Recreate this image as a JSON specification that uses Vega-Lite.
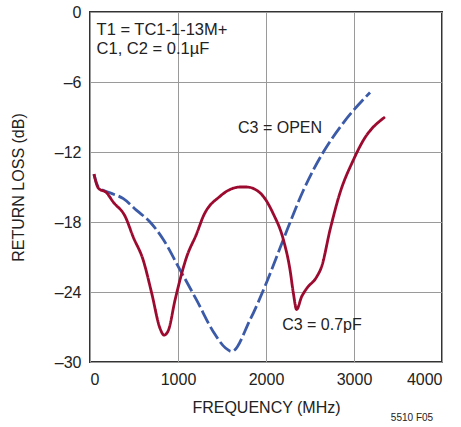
{
  "$schema": "https://vega.github.io/schema/vega-lite/v6.json",
  "autosize": "none",
  "width": 352,
  "height": 350,
  "padding": {"left": 90, "top": 12, "right": 19, "bottom": 65},
  "background": "white",
  "config": {
    "font": "Liberation Sans",
    "view": {"stroke": "#333333", "strokeWidth": 2},
    "axis": {
      "grid": true, "gridColor": "#9a9a9a", "gridWidth": 1,
      "domain": false, "ticks": false,
      "labelFont": "Liberation Sans", "labelFontSize": 16, "labelColor": "#222222",
      "titleFont": "Liberation Sans", "titleFontSize": 16, "titleFontWeight": "normal", "titleColor": "#222222"
    }
  },
  "datasets": {
    "curves": [
      {"s": "C3 = OPEN", "i": 1, "f": 45, "db": -13.9},
      {"s": "C3 = OPEN", "i": 2, "f": 95, "db": -15.0},
      {"s": "C3 = OPEN", "i": 3, "f": 227, "db": -15.5},
      {"s": "C3 = OPEN", "i": 4, "f": 379, "db": -16.0},
      {"s": "C3 = OPEN", "i": 5, "f": 530, "db": -17.0},
      {"s": "C3 = OPEN", "i": 6, "f": 682, "db": -18.0},
      {"s": "C3 = OPEN", "i": 7, "f": 833, "db": -19.5},
      {"s": "C3 = OPEN", "i": 8, "f": 1023, "db": -22.1},
      {"s": "C3 = OPEN", "i": 9, "f": 1212, "db": -24.7},
      {"s": "C3 = OPEN", "i": 10, "f": 1401, "db": -27.4},
      {"s": "C3 = OPEN", "i": 11, "f": 1540, "db": -28.8},
      {"s": "C3 = OPEN", "i": 12, "f": 1610, "db": -29.1},
      {"s": "C3 = OPEN", "i": 13, "f": 1818, "db": -26.4},
      {"s": "C3 = OPEN", "i": 14, "f": 1989, "db": -23.5},
      {"s": "C3 = OPEN", "i": 15, "f": 2197, "db": -19.5},
      {"s": "C3 = OPEN", "i": 16, "f": 2424, "db": -15.3},
      {"s": "C3 = OPEN", "i": 17, "f": 2652, "db": -12.0},
      {"s": "C3 = OPEN", "i": 18, "f": 2879, "db": -9.5},
      {"s": "C3 = OPEN", "i": 19, "f": 3182, "db": -6.9},
      {"s": "C3 = 0.7pF", "i": 1, "f": 45, "db": -13.9},
      {"s": "C3 = 0.7pF", "i": 2, "f": 95, "db": -15.1},
      {"s": "C3 = 0.7pF", "i": 3, "f": 189, "db": -15.5},
      {"s": "C3 = 0.7pF", "i": 4, "f": 265, "db": -16.3},
      {"s": "C3 = 0.7pF", "i": 5, "f": 398, "db": -17.5},
      {"s": "C3 = 0.7pF", "i": 6, "f": 492, "db": -19.3},
      {"s": "C3 = 0.7pF", "i": 7, "f": 606, "db": -21.3},
      {"s": "C3 = 0.7pF", "i": 8, "f": 701, "db": -24.1},
      {"s": "C3 = 0.7pF", "i": 9, "f": 795, "db": -27.1},
      {"s": "C3 = 0.7pF", "i": 10, "f": 841, "db": -27.7},
      {"s": "C3 = 0.7pF", "i": 11, "f": 890, "db": -27.3},
      {"s": "C3 = 0.7pF", "i": 12, "f": 966, "db": -24.7},
      {"s": "C3 = 0.7pF", "i": 13, "f": 1098, "db": -21.0},
      {"s": "C3 = 0.7pF", "i": 14, "f": 1212, "db": -19.0},
      {"s": "C3 = 0.7pF", "i": 15, "f": 1288, "db": -17.5},
      {"s": "C3 = 0.7pF", "i": 16, "f": 1477, "db": -15.8},
      {"s": "C3 = 0.7pF", "i": 17, "f": 1629, "db": -15.1},
      {"s": "C3 = 0.7pF", "i": 18, "f": 1705, "db": -15.0},
      {"s": "C3 = 0.7pF", "i": 19, "f": 1780, "db": -15.0},
      {"s": "C3 = 0.7pF", "i": 20, "f": 1932, "db": -15.5},
      {"s": "C3 = 0.7pF", "i": 21, "f": 2083, "db": -17.3},
      {"s": "C3 = 0.7pF", "i": 22, "f": 2197, "db": -19.5},
      {"s": "C3 = 0.7pF", "i": 23, "f": 2273, "db": -22.1},
      {"s": "C3 = 0.7pF", "i": 24, "f": 2311, "db": -24.1},
      {"s": "C3 = 0.7pF", "i": 25, "f": 2348, "db": -25.5},
      {"s": "C3 = 0.7pF", "i": 26, "f": 2405, "db": -24.4},
      {"s": "C3 = 0.7pF", "i": 27, "f": 2462, "db": -23.7},
      {"s": "C3 = 0.7pF", "i": 28, "f": 2576, "db": -22.7},
      {"s": "C3 = 0.7pF", "i": 29, "f": 2633, "db": -21.8},
      {"s": "C3 = 0.7pF", "i": 30, "f": 2727, "db": -18.7},
      {"s": "C3 = 0.7pF", "i": 31, "f": 2841, "db": -15.5},
      {"s": "C3 = 0.7pF", "i": 32, "f": 2992, "db": -12.7},
      {"s": "C3 = 0.7pF", "i": 33, "f": 3106, "db": -11.0},
      {"s": "C3 = 0.7pF", "i": 34, "f": 3352, "db": -9.0}
    ]
  },
  "layer": [
    {
      "data": {"name": "curves"},
      "mark": {"type": "line", "strokeWidth": 2.8, "strokeCap": "butt", "strokeJoin": "round", "interpolate": "monotone"},
      "encoding": {
        "x": {"field": "f", "type": "quantitative", "scale": {"domain": [0, 4000], "nice": false},
              "axis": {"values": [0, 1000, 2000, 3000, 4000], "title": "FREQUENCY (MHz)", "labelPadding": 9, "titlePadding": 12, "format": "d"}},
        "y": {"field": "db", "type": "quantitative", "scale": {"domain": [-30, 0], "nice": false},
              "axis": {"values": [-30, -24, -18, -12, -6, 0], "title": "RETURN LOSS (dB)", "labelPadding": 9, "titlePadding": 28, "labelExpr": "replace(datum.label, '−', '–')"}},
        "order": {"field": "i", "type": "quantitative"},
        "color": {"field": "s", "type": "nominal", "legend": null,
                  "scale": {"domain": ["C3 = OPEN", "C3 = 0.7pF"], "range": ["#3b5aa8", "#9c0a2f"]}},
        "strokeDash": {"field": "s", "type": "nominal", "legend": null,
                       "scale": {"domain": ["C3 = OPEN", "C3 = 0.7pF"], "range": [[14, 4], [1, 0]]}}
      }
    },
    {
      "data": {"values": [
        {"t": "T1 = TC1-1-13M+", "f": 75, "db": -1.5},
        {"t": "C1, C2 = 0.1µF", "f": 75, "db": -3.15}
      ]},
      "mark": {"type": "text", "align": "left", "baseline": "middle", "fontSize": 16.5, "color": "#222222"},
      "encoding": {
        "x": {"field": "f", "type": "quantitative"},
        "y": {"field": "db", "type": "quantitative"},
        "text": {"field": "t"}
      }
    },
    {
      "data": {"values": [
        {"t": "C3 = OPEN", "f": 2160, "db": -9.95},
        {"t": "C3 = 0.7pF", "f": 2636, "db": -26.8}
      ]},
      "mark": {"type": "text", "align": "center", "baseline": "middle", "fontSize": 16, "color": "#222222"},
      "encoding": {
        "x": {"field": "f", "type": "quantitative"},
        "y": {"field": "db", "type": "quantitative"},
        "text": {"field": "t"}
      }
    },
    {
      "data": {"values": [
        {"t": "5510 F05", "f": 3659, "db": -34.8}
      ]},
      "mark": {"type": "text", "align": "center", "baseline": "middle", "fontSize": 10, "color": "#222222", "clip": false},
      "encoding": {
        "x": {"field": "f", "type": "quantitative"},
        "y": {"field": "db", "type": "quantitative"},
        "text": {"field": "t"}
      }
    }
  ]
}
